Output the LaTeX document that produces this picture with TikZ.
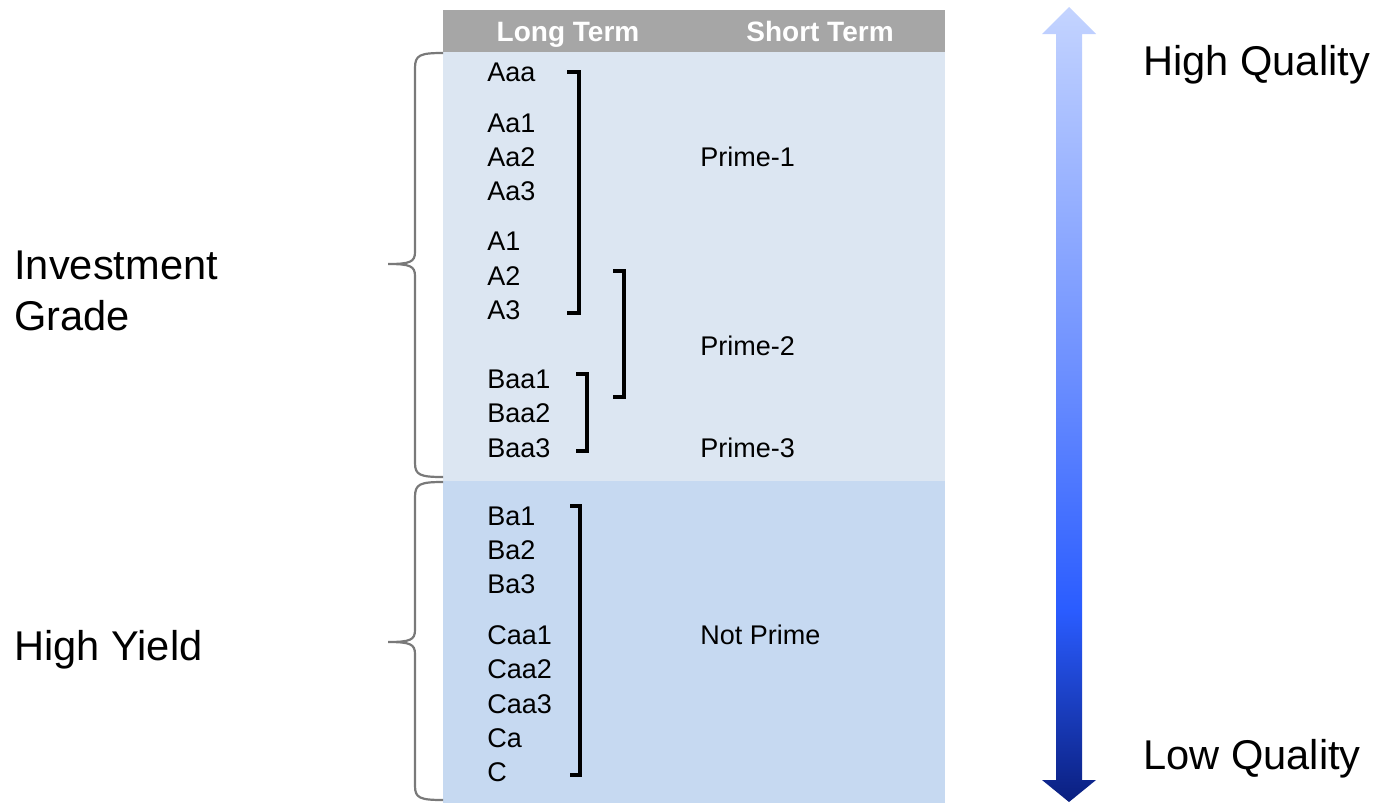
\documentclass[tikz,border=0pt]{standalone}
\usepackage{fontspec}
\setmainfont{Liberation Sans}
\definecolor{qdark}{HTML}{0A1F7F}
\definecolor{qbright}{HTML}{2A5CFF}
\definecolor{qmid}{HTML}{6C8FFF}
\definecolor{qlight}{HTML}{C4D4FF}
\definecolor{headgray}{HTML}{A6A6A6}
\definecolor{igfill}{HTML}{DCE6F2}
\definecolor{hyfill}{HTML}{C6D9F1}
\pgfdeclareverticalshading{qualityshade}{100bp}{%
  color(0bp)=(qdark); color(25bp)=(qdark); color(37bp)=(qbright);
  color(52bp)=(qmid); color(75bp)=(qlight); color(100bp)=(qlight)}
\begin{document}
\begin{tikzpicture}[x=0.5pt,y=-0.5pt,
  rating/.style={anchor=west,inner sep=0pt,text height=9.67pt,text depth=0pt,font=\fontsize{13.5}{14}\selectfont},
  bigtext/.style={anchor=west,inner sep=0pt,text height=14.9pt,text depth=0pt,font=\fontsize{20.8}{22}\selectfont},
  headtext/.style={anchor=center,inner sep=0pt,text height=10.02pt,text depth=0pt,text=white,font=\fontsize{14}{15}\selectfont\bfseries},
  bracketline/.style={line width=1.6pt,line join=miter,black},
  braceline/.style={line width=1.1pt,draw=gray!95!black}]
\useasboundingbox (0,0) rectangle (1379,803);

% table panels
\fill[headgray] (443,10) rectangle (945,52);
\fill[igfill] (443,52) rectangle (945,481);
\fill[hyfill] (443,481) rectangle (945,803);

% column headings
\node[headtext] (lt) at (568,31) {Long Term};
\node[headtext] (st) at (820,31) {Short Term};

% long-term ratings
\node[rating] (aaa) at (487,72) {Aaa};
\node[rating] (aa1) at (487,123) {Aa1};
\node[rating] (aa2) at (487,157) {Aa2};
\node[rating] (aa3) at (487,191) {Aa3};
\node[rating] (a1) at (487,241) {A1};
\node[rating] (a2) at (487,276) {A2};
\node[rating] (a3) at (487,310) {A3};
\node[rating] (baa1) at (487,379) {Baa1};
\node[rating] (baa2) at (487,413) {Baa2};
\node[rating] (baa3) at (487,448) {Baa3};
\node[rating] (ba1) at (487,516) {Ba1};
\node[rating] (ba2) at (487,550) {Ba2};
\node[rating] (ba3) at (487,584) {Ba3};
\node[rating] (caa1) at (487,635) {Caa1};
\node[rating] (caa2) at (487,669) {Caa2};
\node[rating] (caa3) at (487,704) {Caa3};
\node[rating] (ca) at (487,738) {Ca};
\node[rating] (c) at (487,772) {C};

% short-term ratings
\node[rating] (p1) at (700,157) {Prime-1};
\node[rating] (p2) at (700,346) {Prime-2};
\node[rating] (p3) at (700,448) {Prime-3};
\node[rating] (np) at (700,635) {Not Prime};

% grouping brackets
\draw[bracketline] (567,72) -- (579,72) -- (579,313) -- (567,313);
\draw[bracketline] (613,271) -- (624,271) -- (624,397) -- (613,397);
\draw[bracketline] (576,374) -- (587,374) -- (587,451) -- (576,451);
\draw[bracketline] (570,506) -- (580,506) -- (580,775) -- (570,775);

% grade braces
\draw[braceline] (443,53) .. controls (420,53) and (415,55) .. (415,68)
  -- (415,252) .. controls (415,262) and (410,264) .. (388,264)
  .. controls (410,264) and (415,266) .. (415,276)
  -- (415,463) .. controls (415,475) and (420,477) .. (443,477);
\draw[braceline] (443,482) .. controls (420,482) and (415,484) .. (415,497)
  -- (415,630) .. controls (415,640) and (410,642) .. (388,642)
  .. controls (410,642) and (415,644) .. (415,654)
  -- (415,786) .. controls (415,798) and (420,800) .. (443,800);

% grade labels
\node[bigtext] (ig1) at (14,265) {Investment};
\node[bigtext] (ig2) at (14,316) {Grade};
\node[bigtext] (hy) at (14,646) {High Yield};

% quality arrow
\shade[shading=qualityshade] (1069,7) -- (1096,34) -- (1082,34) -- (1082,780)
  -- (1096,780) -- (1069,802) -- (1042,780) -- (1056,780) -- (1056,34)
  -- (1042,34) -- cycle;
\node[bigtext] (hq) at (1143,61) {High Quality};
\node[bigtext] (lq) at (1143,755) {Low Quality};
\end{tikzpicture}
\end{document}
